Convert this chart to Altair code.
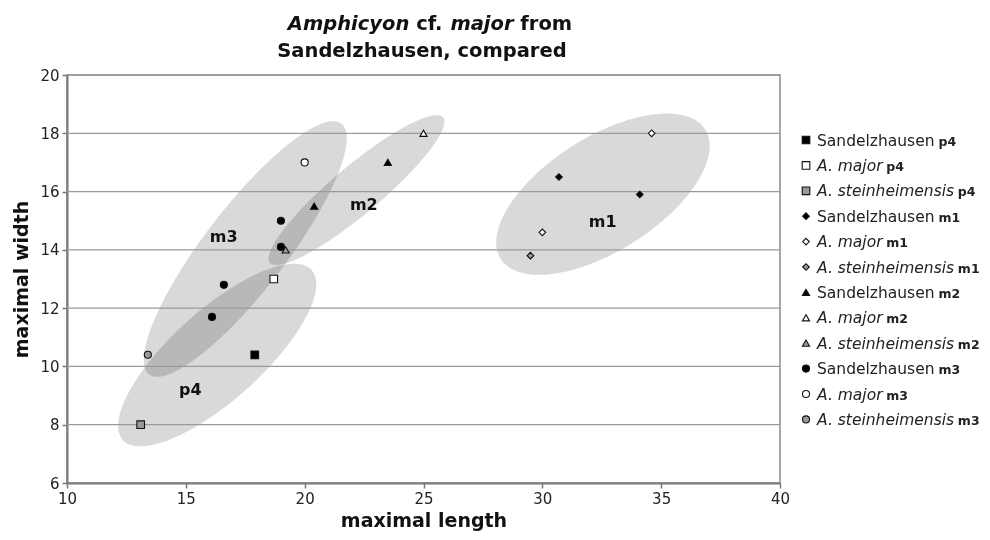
import math
import altair as alt
import pandas as pd

FONT = "DejaVu Sans"

# ---------------- data ----------------
groups = ["Sandelzhausen", "A. major", "A. steinheimensis"]
teeth = ["p4", "m1", "m2", "m3"]

p4_sand_x = [17.9];                  p4_sand_y = [10.4]
p4_major_x = [18.7];                 p4_major_y = [13.0]
p4_stein_x = [13.1];                 p4_stein_y = [8.0]
m1_sand_x = [30.7, 34.1];            m1_sand_y = [16.5, 15.9]
m1_major_x = [34.6, 30.0];           m1_major_y = [18.0, 14.6]
m1_stein_x = [29.5];                 m1_stein_y = [13.8]
m2_sand_x = [20.4, 23.5];            m2_sand_y = [15.5, 17.0]
m2_major_x = [25.0];                 m2_major_y = [18.0]
m2_stein_x = [19.2];                 m2_stein_y = [14.0]
m3_sand_x = [16.1, 16.6, 19.0, 19.0]; m3_sand_y = [11.7, 12.8, 15.0, 14.1]
m3_major_x = [20.0];                 m3_major_y = [17.0]
m3_stein_x = [13.4];                 m3_stein_y = [10.4]

x_ticks = [10, 15, 20, 25, 30, 35, 40]
y_ticks = [6, 8, 10, 12, 14, 16, 18, 20]

# group ellipses: centre (data units), semi-axes (px), tilt (deg)
ell_names = ["p4", "m3", "m2", "m1"]
ell_cx = [16.32, 17.50, 22.18, 32.55]
ell_cy = [10.39, 14.03, 16.05, 15.91]
ell_a = [127, 158, 113, 121]
ell_b = [45, 41, 24, 57]
ell_ang = [42, 52.5, 40, 32.3]

ell_label_x = [15.19, 16.59, 22.49, 32.54]
ell_label_y = [9.19, 14.45, 15.54, 14.97]

title_line1 = ["Amphicyon", "cf.", "major", "from"]
title_line1_italic = [True, False, True, False]
title_line2 = "Sandelzhausen, compared"

# ---------------- layout ----------------
W, H = 713, 408
XD = [10, 40]
YD = [6, 20]
PX_X = W / (XD[1] - XD[0])
PX_Y = H / (YD[1] - YD[0])

shape_of = {"p4": "square", "m1": "diamond", "m2": "triangle-up", "m3": "circle"}
size_of = {"p4": 58, "m1": 44, "m2": 52, "m3": 50}
fill_of = {"Sandelzhausen": "#000000", "A. major": "#ffffff", "A. steinheimensis": "#9a9a9a"}

series = [
    ("Sandelzhausen", "p4", p4_sand_x, p4_sand_y),
    ("A. major", "p4", p4_major_x, p4_major_y),
    ("A. steinheimensis", "p4", p4_stein_x, p4_stein_y),
    ("Sandelzhausen", "m1", m1_sand_x, m1_sand_y),
    ("A. major", "m1", m1_major_x, m1_major_y),
    ("A. steinheimensis", "m1", m1_stein_x, m1_stein_y),
    ("Sandelzhausen", "m2", m2_sand_x, m2_sand_y),
    ("A. major", "m2", m2_major_x, m2_major_y),
    ("A. steinheimensis", "m2", m2_stein_x, m2_stein_y),
    ("Sandelzhausen", "m3", m3_sand_x, m3_sand_y),
    ("A. major", "m3", m3_major_x, m3_major_y),
    ("A. steinheimensis", "m3", m3_stein_x, m3_stein_y),
]

pts = []
for g, t, xs, ys in series:
    for xv, yv in zip(xs, ys):
        pts.append(dict(x=xv, y=yv, group=g, tooth=t, shape=shape_of[t],
                        fill=fill_of[g], size=size_of[t]))
pts_df = pd.DataFrame(pts)

ell_rows = []
for name, cx, cy, a, b, ang in zip(ell_names, ell_cx, ell_cy, ell_a, ell_b, ell_ang):
    th = math.radians(ang)
    n = 160
    for k in range(n + 1):
        t = 2 * math.pi * k / n
        px = a * math.cos(t) * math.cos(th) - b * math.sin(t) * math.sin(th)
        py = a * math.cos(t) * math.sin(th) + b * math.sin(t) * math.cos(th)
        ell_rows.append(dict(ell=name, k=k, x=cx + px / PX_X, y=cy + py / PX_Y))
ell_df = pd.DataFrame(ell_rows)

lab_df = pd.DataFrame(dict(x=ell_label_x, y=ell_label_y, text=ell_names))
grid_df = pd.DataFrame(dict(y=y_ticks[1:]))

# approximate DejaVu Sans advance widths (em)
REG = {"S": .635, "a": .613, "n": .634, "d": .635, "e": .615, "l": .278, "z": .525,
       "h": .634, "u": .634, "s": .521, "A": .684, ".": .318, " ": .318, "m": .974,
       "j": .278, "o": .612, "r": .411, "t": .392, "i": .278}
BOLD = {"A": .774, "m": 1.042, "p": .716, "h": .712, "i": .343, "c": .593, "y": .652,
        "o": .687, "n": .712, "f": .435, ".": .380, "a": .675, "j": .343, "r": .493, " ": .348}


def text_w(s, table, fs):
    return sum(table.get(ch, 0.6) for ch in s) * fs


# legend rows
LEG_FS = 15.5
leg_rows = []
for i, (g, t, _, _) in enumerate(series):
    yc = 65 + 25.4 * i
    name_x = 750
    suf_x = name_x + text_w(g, REG, LEG_FS) + 4
    leg_rows.append(dict(name=g, suffix=t, italic=(g != "Sandelzhausen"),
                         ysym=yc, ytxt=yc + 5.5, sx=739, nx=name_x, ux=suf_x,
                         shape=shape_of[t], fill=fill_of[g], size=size_of[t]))
leg_df = pd.DataFrame(leg_rows)

# title pieces
TFS = 19.5
widths = [text_w(s, BOLD, TFS) for s in title_line1]
total = sum(widths) + BOLD[" "] * TFS * (len(widths) - 1)
start = 363 - total / 2
tx = []
cur = start
for w_ in widths:
    tx.append(cur)
    cur += w_ + BOLD[" "] * TFS
title_df = pd.DataFrame(dict(text=title_line1, italic=title_line1_italic, tx=tx))

# ---------------- chart ----------------
xscale = alt.Scale(domain=XD, nice=False, zero=False)
yscale = alt.Scale(domain=YD, nice=False, zero=False)
axis_common = dict(grid=False, labelFont=FONT, labelFontSize=15, labelColor="#222",
                   titleFont=FONT, titleFontSize=19, titleFontWeight="bold", titleColor="#111",
                   domainColor="#7a7a7a", domainWidth=2, tickColor="#7a7a7a", tickWidth=1.5,
                   tickSize=5)
X = alt.X("x:Q", scale=xscale,
          axis=alt.Axis(values=x_ticks, title="maximal length", labelPadding=3,
                        titlePadding=5, labelFlush=False, **axis_common))
Y = alt.Y("y:Q", scale=yscale,
          axis=alt.Axis(values=y_ticks, title="maximal width", labelPadding=3,
                        titlePadding=8, labelFlush=False, **axis_common))

ellipses = alt.Chart(ell_df).mark_line(
    fill="#d9d9d9", stroke="transparent", blend="multiply"
).encode(x=X, y=Y, detail="ell:N", order="k:Q")

grid = alt.Chart(grid_df).mark_rule(color="#9a9a9a", strokeWidth=1.3).encode(y=Y)

points = alt.Chart(pts_df).mark_point(filled=True, stroke="#111", strokeWidth=1.1, opacity=1).encode(
    x=X, y=Y,
    shape=alt.Shape("shape:N", scale=None),
    fill=alt.Fill("fill:N", scale=None),
    size=alt.Size("size:Q", scale=None),
)

labels = alt.Chart(lab_df).mark_text(
    font=FONT, fontSize=16, fontWeight="bold", color="#111", baseline="middle", align="center"
).encode(x=X, y=Y, text="text:N")

leg_sym = alt.Chart(leg_df).mark_point(filled=True, stroke="#111", strokeWidth=1.1, opacity=1).encode(
    x=alt.X("sx:Q", scale=None), y=alt.Y("ysym:Q", scale=None),
    shape=alt.Shape("shape:N", scale=None),
    fill=alt.Fill("fill:N", scale=None),
    size=alt.Size("size:Q", scale=None),
)
leg_name_it = alt.Chart(leg_df).transform_filter("datum.italic").mark_text(
    font=FONT, fontSize=LEG_FS, fontStyle="italic", color="#222", align="left", baseline="alphabetic"
).encode(x=alt.X("nx:Q", scale=None), y=alt.Y("ytxt:Q", scale=None), text="name:N")
leg_name_rg = alt.Chart(leg_df).transform_filter("!datum.italic").mark_text(
    font=FONT, fontSize=LEG_FS, color="#222", align="left", baseline="alphabetic"
).encode(x=alt.X("nx:Q", scale=None), y=alt.Y("ytxt:Q", scale=None), text="name:N")
leg_suf = alt.Chart(leg_df).mark_text(
    font=FONT, fontSize=12.5, fontWeight="bold", color="#222", align="left", baseline="alphabetic"
).encode(x=alt.X("ux:Q", scale=None), y=alt.Y("ytxt:Q", scale=None), text="suffix:N")

title_it = alt.Chart(title_df).transform_filter("datum.italic").mark_text(
    font=FONT, fontSize=TFS, fontWeight="bold", fontStyle="italic", color="#111",
    align="left", baseline="alphabetic"
).encode(x=alt.X("tx:Q", scale=None), y=alt.value(-45), text="text:N")
title_rg = alt.Chart(title_df).transform_filter("!datum.italic").mark_text(
    font=FONT, fontSize=TFS, fontWeight="bold", color="#111",
    align="left", baseline="alphabetic"
).encode(x=alt.X("tx:Q", scale=None), y=alt.value(-45), text="text:N")
title2 = alt.Chart(pd.DataFrame(dict(text=[title_line2]))).mark_text(
    font=FONT, fontSize=TFS, fontWeight="bold", color="#111",
    align="center", baseline="alphabetic"
).encode(x=alt.value(355), y=alt.value(-18), text="text:N")

chart = alt.layer(
    ellipses, grid, points, labels, leg_sym, leg_name_it, leg_name_rg, leg_suf,
    title_it, title_rg, title2
).properties(
    width=W, height=H,
    autosize=alt.AutoSizeParams(type="none"),
    padding={"left": 59, "top": 67, "right": 202, "bottom": 49},
    background="white",
).configure_view(stroke="#8a8a8a", strokeWidth=1.5)

chart.save("out.html", embed_options={"renderer": "svg", "actions": False})
